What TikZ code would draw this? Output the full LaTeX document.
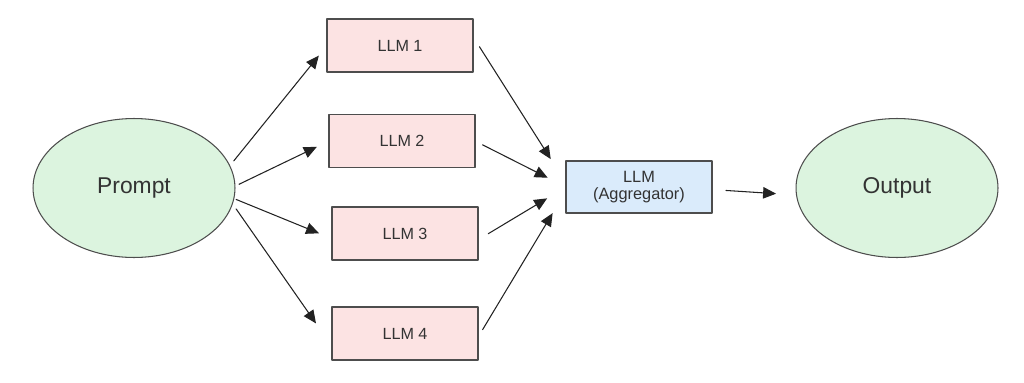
\documentclass[tikz,border=0pt]{standalone}
\usepackage{fontspec}
\setmainfont{Liberation Sans}
\usetikzlibrary{arrows.meta,shapes.geometric}
\definecolor{MixInk}{HTML}{333333}
\definecolor{MixEdge}{HTML}{4D4D4D}
\definecolor{MixArrow}{HTML}{222222}
\definecolor{MixPink}{HTML}{FCE3E3}
\definecolor{MixGreen}{HTML}{DCF4DF}
\definecolor{MixBlue}{HTML}{DAEBFB}
\tikzset{
    mix/diagram/.style={
        x=0.02cm, y=-0.02cm,
        text=MixInk,
        line cap=round,
        line join=round,
        every node/.style={inner sep=2pt, outer sep=0pt}
    },
    mix/terminal/.style={
        ellipse, draw=MixEdge, fill=MixGreen, line width=0.6pt,
        minimum width=4.04cm, minimum height=2.78cm,
        font=\fontsize{13}{15}\selectfont
    },
    mix/model/.style={
        rectangle, draw=MixEdge, fill=MixPink, line width=0.6pt,
        minimum width=2.92cm, minimum height=1.06cm,
        font=\fontsize{9.2}{11}\selectfont
    },
    mix/aggregator/.style={
        mix/model, fill=MixBlue, align=center,
        minimum height=1.04cm,
        font=\fontsize{9.3}{9.9}\selectfont
    },
    mix/flow/.style={
        draw=MixArrow, line width=0.6pt,
        -{Triangle[length=2.6mm, width=2.3mm]}
    }
}
\begin{document}
\begin{tikzpicture}[mix/diagram]
    \useasboundingbox (0,0) rectangle (1024,382);
    \node[mix/terminal] (prompt) at (134,188) {Prompt};
    \node[mix/model] (llm1) at (400,45.5) {LLM 1};
    \node[mix/model] (llm2) at (402,141) {LLM 2};
    \node[mix/model] (llm3) at (405,233.5) {LLM 3};
    \node[mix/model] (llm4) at (405,333.5) {LLM 4};
    \node[mix/aggregator] (agg) at (639,187) {LLM\\(Aggregator)};
    \node[mix/terminal] (output) at (897,188) {Output};
    % fan out: the arrows stop short of the boxes
    \draw[mix/flow, shorten <=0.13cm, shorten >=0.26cm] (prompt.13) -- (llm1.west);
    \draw[mix/flow, shorten <=0.09cm, shorten >=0.27cm] (prompt.1) -- (llm2.west);
    \draw[mix/flow, shorten <=0.05cm, shorten >=0.28cm] (prompt.-6) -- (llm3.184);
    \draw[mix/flow, shorten <=0.13cm, shorten >=0.56cm] (prompt.-9) -- (llm4.190);
    % fan in
    \draw[mix/flow, shorten <=0.24cm, shorten >=0.57cm] (llm1.7) -- (agg.177);
    \draw[mix/flow, shorten <=0.17cm, shorten >=0.41cm] (llm2.east) -- (agg.west);
    \draw[mix/flow, shorten <=0.24cm, shorten >=0.44cm] (llm3.-5) -- (agg.west);
    \draw[mix/flow, shorten <=0.18cm, shorten >=0.52cm] (llm4.-3) -- (agg.183);
    \draw[mix/flow, shorten <=0.28cm, shorten >=0.41cm] (agg.-2) -- (output.184);
\end{tikzpicture}
\end{document}
